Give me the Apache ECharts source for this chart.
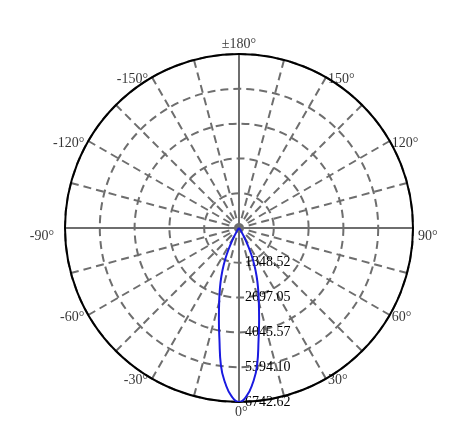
<!DOCTYPE html>
<html>
<head>
<meta charset="utf-8">
<script src="https://cdn.jsdelivr.net/npm/echarts@6/dist/echarts.min.js"></script>
<style>
  html, body { margin: 0; padding: 0; background: #fff; }
  #chart { width: 474px; height: 443px; }
</style>
</head>
<body>
<div id="chart"></div>
<script>
// 光强分布（C0 平面，对称）
const angles = [0, 2.5, 5, 7.5, 10, 12.5, 15, 17.5, 20, 22.5, 25, 27.5, 30, 32.5, 35, 40, 45, 60, 90, 120, 150, 180];
const intensity = [6742.62, 6530, 6050, 5370, 4370, 3600, 2970, 2460, 2000, 1550, 1110, 680, 360, 190, 100, 30, 10, 0, 0, 0, 0, 0];
const maxValue = 6742.62;
const ringCount = 5;

// 角度刻度标签
const tickAngles = [-150, -120, -90, -60, -30, 0, 30, 60, 90, 120, 150, 180];
const tickLabels = ["-150°", "-120°", "-90°", "-60°", "-30°", "0°", "30°", "60°", "90°", "120°", "150°", "±180°"];

const FONT = "Liberation Serif";
const GRID = "#6e6e6e";

// 两侧镜像: -180 ... 0 ... 180
let points = [];
for (let i = angles.length - 1; i > 0; i--) points.push([intensity[i], -angles[i]]);
for (let i = 0; i < angles.length; i++) points.push([intensity[i], angles[i]]);

// 标签放在圆外侧
function tickLabelStyle(a) {
    if (a === 180) return { align: "center", verticalAlign: "bottom", offset: [0, -3] };
    if (a === 0) return { align: "left", verticalAlign: "top", offset: [-4, 3] };
    if (Math.abs(a) === 90) return { align: a > 0 ? "left" : "right", verticalAlign: "middle", offset: [a > 0 ? 5 : -11, 8] };
    return { align: a > 0 ? "left" : "right", verticalAlign: "middle", offset: [a > 0 ? 2 : -4, 2] };
}

let tickData = tickAngles.map(a => ({ value: [maxValue, a], label: tickLabelStyle(a) }));

let chart = echarts.init(document.getElementById("chart"));
chart.setOption({
    animation: false,
    polar: [
        { center: [239, 228], radius: 174 },
        { center: [239, 228], radius: 174 }
    ],
    angleAxis: [
        {
            polarIndex: 0, type: "value", min: -180, max: 180, interval: 15,
            startAngle: 90, clockwise: false,
            axisLine: { show: false },
            axisTick: { show: false },
            axisLabel: { show: false },
            splitLine: { show: true, lineStyle: { color: GRID, width: 2, type: [8, 5] } }
        },
        {
            polarIndex: 1, type: "value", min: 0, max: 360, interval: 90,
            startAngle: 270, clockwise: false,
            axisLine: { show: true, lineStyle: { color: "#000", width: 2 } },
            axisTick: { show: false },
            axisLabel: { show: false },
            splitLine: { show: true, lineStyle: { color: GRID, width: 2, type: "solid" } }
        }
    ],
    radiusAxis: [
        {
            polarIndex: 0, type: "value", min: 0, max: maxValue, interval: maxValue / ringCount,
            axisLine: { show: false },
            axisTick: { show: false },
            axisLabel: { show: false },
            splitLine: { show: true, lineStyle: { color: GRID, width: 2, type: [8, 5] } }
        },
        {
            polarIndex: 1, type: "value", min: 0, max: maxValue, interval: maxValue / ringCount,
            axisLine: { show: false },
            axisTick: { show: false },
            axisLabel: {
                show: true, showMinLabel: false,
                formatter: v => v.toFixed(2),
                color: "#000", fontFamily: FONT, fontSize: 14, margin: 6
            },
            splitLine: { show: false }
        }
    ],
    series: [
        {
            type: "line",
            coordinateSystem: "polar",
            polarIndex: 0,
            data: points,
            smooth: true,
            symbol: "none",
            lineStyle: { color: "#1a1ae0", width: 2 },
            z: 10
        },
        {
            type: "scatter",
            coordinateSystem: "polar",
            polarIndex: 0,
            data: tickData,
            symbolSize: 0,
            silent: true,
            label: {
                show: true, position: "inside",
                formatter: p => tickLabels[p.dataIndex],
                color: "#000", fontFamily: FONT, fontSize: 14
            },
            z: 11
        }
    ]
});
</script>
</body>
</html>
